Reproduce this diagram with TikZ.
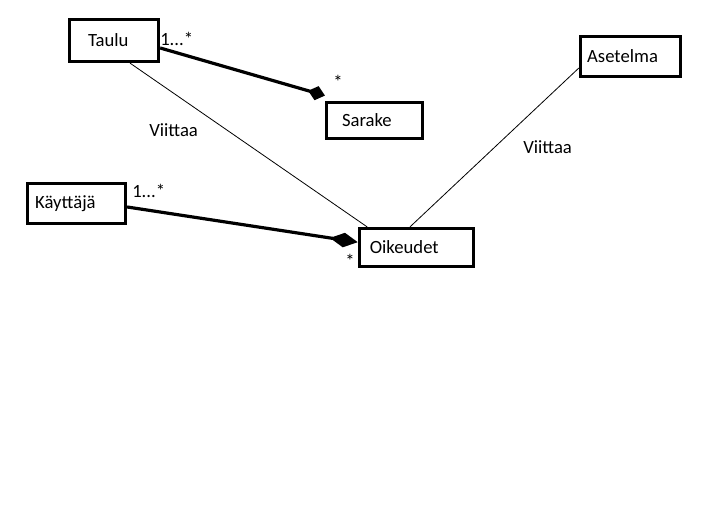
\documentclass[tikz,border=0pt]{standalone}
\usepackage{fontspec}
\setmainfont{Carlito}
\usetikzlibrary{arrows.meta}
\begin{document}
\begin{tikzpicture}[x=0.75pt, y=-0.75pt,
        every node/.style={font=\fontsize{14}{16}\selectfont},
        luokka/.style={draw, line width=2.4pt, align=left, inner ysep=0pt},
        kooste/.style={line width=2.4pt, -{Diamond[length=#1, width=11pt]}},
        kooste/.default=21pt,
        viite/.style={line width=0.6pt},
        merkki/.style={anchor=base west, inner sep=0pt}]
        \useasboundingbox (0,0) rectangle (723,529);

        % Classes
        \node[luokka, minimum width=66.75pt, minimum height=31.5pt, text width=39pt, inner xsep=13.9pt] (taulu) at (114,40.5) {Taulu};
        \node[luokka, minimum width=72pt, minimum height=27pt, text width=48.75pt, inner xsep=11.6pt] (sarake) at (374.5,120.5) {Sarake};
        \node[luokka, minimum width=75pt, minimum height=30pt, text width=65pt, inner xsep=4.9pt] (asetelma) at (630.5,56.5) {Asetelma};
        \node[luokka, minimum width=73.5pt, minimum height=30pt, text width=62pt, inner xsep=5.6pt] (kayttaja) at (76.5,203.5) {Käyttäjä};
        \node[luokka, minimum width=85.5pt, minimum height=28.5pt, text width=70pt, inner xsep=7.9pt] (oikeudet) at (416.5,247.5) {Oikeudet};

        % Compositions
        \draw[kooste=13pt] ([yshift=-5.6pt]taulu.east) -- ([yshift=4pt]sarake.north west);
        \draw[kooste] ([yshift=-2.6pt]kayttaja.east) -- ([yshift=4pt]oikeudet.west);

        % References
        \draw[viite] ([xshift=12pt]taulu.south) -- ([xshift=-37pt]oikeudet.north);
        \draw[viite] ([yshift=-8.6pt]asetelma.west) -- ([xshift=-4.9pt]oikeudet.north);

        % Multiplicities and labels
        \node[merkki] (tauluraja) at (160,45) {1...*};
        \node[merkki] (sarakeraja) at (333,88) {*};
        \node[merkki] (viite1) at (149,136) {Viittaa};
        \node[merkki] (viite2) at (523,153) {Viittaa};
        \node[merkki] (kayttajaraja) at (132,197) {1...*};
        \node[merkki] (oikeusraja) at (345,267) {*};
\end{tikzpicture}
\end{document}
